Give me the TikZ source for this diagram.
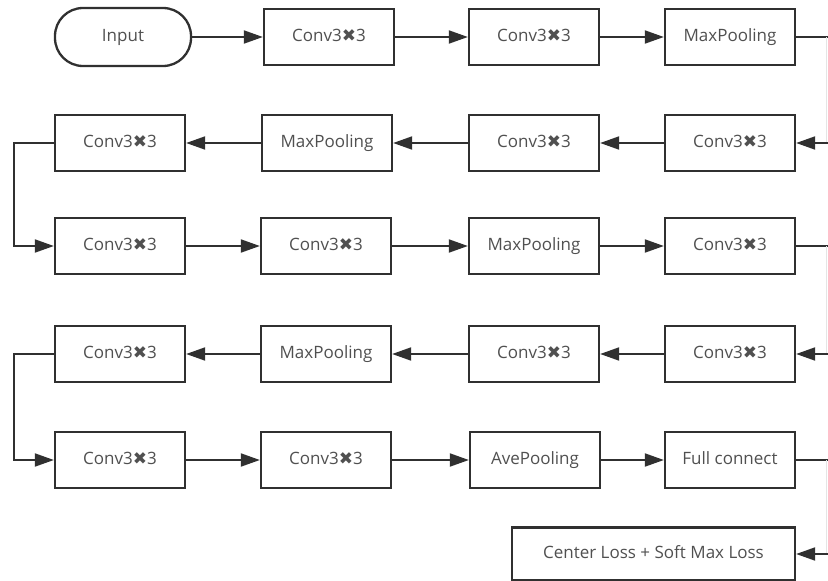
\documentclass[tikz,border=0pt]{standalone}
\usepackage{fontspec}
\setmainfont{Open Sans}
\newfontfamily\symfont{DejaVu Sans}
\usetikzlibrary{arrows.meta}
\definecolor{bordc}{HTML}{303030}
\definecolor{txtc}{HTML}{505050}
\newcommand{\cx}{Conv3{\symfont\char"2716}3}
\tikzset{
  blk/.style={draw=bordc, line width=2.3pt, fill=white, minimum width=130pt, minimum height=56pt, inner sep=0pt, text=txtc, text height=12pt, text depth=3pt, font=\fontsize{17}{19}\selectfont},
  term/.style={blk, rounded corners=28pt, minimum width=136pt, minimum height=58pt},
  conn/.style={draw=bordc, line width=1.9pt},
  arr/.style={conn, -{Triangle[length=19pt,width=13pt]}},
}
\begin{document}
\begin{tikzpicture}[x=1pt,y=-1pt]
\useasboundingbox (0,0) rectangle (828,581);
% row 1
\node[term] (in) at (123,37) {Input};
\node[blk] (a2) at (329,37) {\cx};
\node[blk] (a3) at (534,37) {\cx};
\node[blk] (a4) at (730,37) {MaxPooling};
% row 2
\node[blk] (b1) at (120,143) {\cx};
\node[blk] (b2) at (327,143) {MaxPooling};
\node[blk] (b3) at (534,143) {\cx};
\node[blk] (b4) at (730,143) {\cx};
% row 3
\node[blk] (c1) at (120,246) {\cx};
\node[blk] (c2) at (326,246) {\cx};
\node[blk] (c3) at (534,246) {MaxPooling};
\node[blk] (c4) at (730,246) {\cx};
% row 4
\node[blk] (d1) at (120,354) {\cx};
\node[blk] (d2) at (326,354) {MaxPooling};
\node[blk] (d3) at (534,354) {\cx};
\node[blk] (d4) at (730,354) {\cx};
% row 5
\node[blk] (e1) at (120,460) {\cx};
\node[blk] (e2) at (326,460) {\cx};
\node[blk] (e3) at (535,460) {AvePooling};
\node[blk] (e4) at (730,460) {Full connect};
% row 6
\node[blk, minimum width=283pt, minimum height=53pt] (f) at (653.5,554) {Center Loss + Soft Max Loss};
% right turn coordinates
\coordinate (r1a) at (828,37);
\coordinate (r1b) at (828,143);
\coordinate (r3a) at (828,246);
\coordinate (r3b) at (828,354);
\coordinate (r5a) at (828,460);
\coordinate (r5b) at (828,554);
\coordinate (v1a) at (826,37);
\coordinate (v1b) at (826,143);
\coordinate (v3a) at (826,246);
\coordinate (v3b) at (826,354);
\coordinate (v5a) at (826,460);
\coordinate (v5b) at (826,554);
% left turn coordinates
\coordinate (l2) at (14,143);
\coordinate (l3) at (14,246);
\coordinate (l4) at (14,354);
\coordinate (l5) at (14,460);
% row 1 arrows
\draw[arr] (in) -- (a2);
\draw[arr] (a2) -- (a3);
\draw[arr] (a3) -- (a4);
\draw[conn] (a4) -- (r1a);
\draw[gray!20, line width=1pt] (v1a) -- (v1b);
\draw[arr] (r1b) -- (b4);
% row 2
\draw[arr] (b4) -- (b3);
\draw[arr] (b3) -- (b2);
\draw[arr] (b2) -- (b1);
\draw[arr] (b1.west) -- (l2) -- (l3) -- (c1.west);
% row 3
\draw[arr] (c1) -- (c2);
\draw[arr] (c2) -- (c3);
\draw[arr] (c3) -- (c4);
\draw[conn] (c4) -- (r3a);
\draw[gray!20, line width=1pt] (v3a) -- (v3b);
\draw[arr] (r3b) -- (d4);
% row 4
\draw[arr] (d4) -- (d3);
\draw[arr] (d3) -- (d2);
\draw[arr] (d2) -- (d1);
\draw[arr] (d1.west) -- (l4) -- (l5) -- (e1.west);
% row 5
\draw[arr] (e1) -- (e2);
\draw[arr] (e2) -- (e3);
\draw[arr] (e3) -- (e4);
\draw[conn] (e4) -- (r5a);
\draw[gray!20, line width=1pt] (v5a) -- (v5b);
\draw[arr] (r5b) -- (f);
\end{tikzpicture}
\end{document}
